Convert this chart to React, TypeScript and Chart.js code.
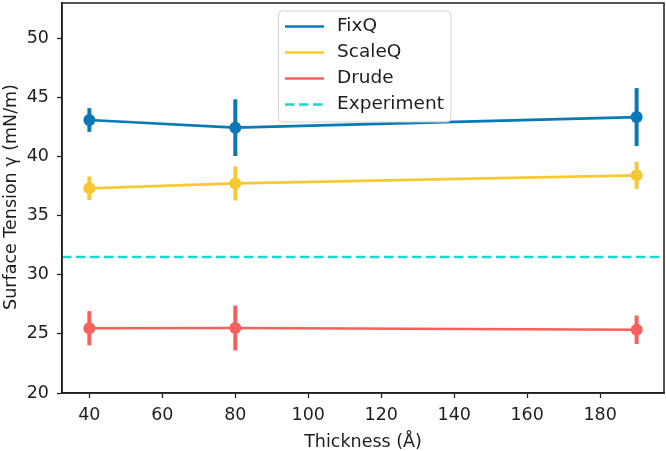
import React, { useEffect, useRef } from "react";
import { Chart, registerables } from "chart.js";

Chart.register(...registerables);

const thickness = [40, 80, 190];
const fixQ = [43.1, 42.45, 43.35];
const fixQErr = [1.0, 2.4, 2.45];
const scaleQ = [37.32, 37.73, 38.42];
const scaleQErr = [1.0, 1.45, 1.15];
const drude = [25.48, 25.5, 25.35];
const drudeErr = [1.45, 1.9, 1.2];
const experiment = 31.5;

const xMin = 32.5;
const xMax = 197.5;
const yMin = 20;
const yMax = 53;
const xTicks = [40, 60, 80, 100, 120, 140, 160, 180];
const yTicks = [20, 25, 30, 35, 40, 45, 50];

const seriesNames = ["FixQ", "ScaleQ", "Drude", "Experiment"];
const colors = ["#0879b6", "#f7c832", "#f8605b", "#1cd6d2"];

const FONT = "DejaVu Sans";
const INK = "#1e1e1e";

const errorSets = [
  { values: fixQ, errs: fixQErr, color: colors[0] },
  { values: scaleQ, errs: scaleQErr, color: colors[1] },
  { values: drude, errs: drudeErr, color: colors[2] },
];

const decorPlugin = {
  id: "decor",
  afterDatasetsDraw(chart: any) {
    const ctx = chart.ctx;
    const xs = chart.scales.x;
    const ys = chart.scales.y;
    ctx.save();
    errorSets.forEach((s) => {
      ctx.strokeStyle = s.color;
      ctx.lineWidth = 4;
      ctx.lineCap = "butt";
      thickness.forEach((t, i) => {
        const px = xs.getPixelForValue(t);
        ctx.beginPath();
        ctx.moveTo(px, ys.getPixelForValue(s.values[i] + s.errs[i]));
        ctx.lineTo(px, ys.getPixelForValue(s.values[i] - s.errs[i]));
        ctx.stroke();
      });
      ctx.fillStyle = s.color;
      thickness.forEach((t, i) => {
        ctx.beginPath();
        ctx.arc(xs.getPixelForValue(t), ys.getPixelForValue(s.values[i]), 6, 0, Math.PI * 2);
        ctx.fill();
      });
    });
    ctx.restore();
  },
  afterDraw(chart: any) {
    const ctx = chart.ctx;
    const a = chart.chartArea;
    ctx.save();
    // frame
    ctx.strokeStyle = INK;
    ctx.lineWidth = 1.5;
    ctx.strokeRect(a.left, a.top, a.right - a.left, a.bottom - a.top);

    // axis titles
    ctx.fillStyle = INK;
    ctx.font = `17.5px "${FONT}"`;
    ctx.textAlign = "center";
    ctx.textBaseline = "alphabetic";
    ctx.fillText("Thickness (Å)", (a.left + a.right) / 2, 446.5);
    ctx.save();
    ctx.translate(11, (a.top + a.bottom) / 2 - 1);
    ctx.rotate(-Math.PI / 2);
    ctx.textBaseline = "middle";
    ctx.fillText("Surface Tension γ (mN/m)", 0, 0);
    ctx.restore();

    // legend
    const lineX0 = 285;
    const lineX1 = 324;
    const textX = 337;
    const rowY0 = 26.5;
    const rowH = 26;
    ctx.font = `18.5px "${FONT}"`;
    let maxW = 0;
    seriesNames.forEach((n) => {
      maxW = Math.max(maxW, ctx.measureText(n).width);
    });
    const bx = 278.5;
    const by = 11;
    const bw = textX + maxW + 7 - bx;
    const bh = 111;
    ctx.beginPath();
    (ctx as any).roundRect(bx, by, bw, bh, 4);
    ctx.fillStyle = "rgba(255,255,255,0.85)";
    ctx.fill();
    ctx.strokeStyle = "#d0d0d0";
    ctx.lineWidth = 1;
    ctx.stroke();
    seriesNames.forEach((n, i) => {
      const y = rowY0 + i * rowH;
      ctx.strokeStyle = colors[i];
      ctx.lineWidth = 2.5;
      ctx.setLineDash(i === 3 ? [9.5, 4.5] : []);
      ctx.beginPath();
      ctx.moveTo(lineX0, y);
      ctx.lineTo(lineX1, y);
      ctx.stroke();
      ctx.setLineDash([]);
      ctx.fillStyle = INK;
      ctx.textAlign = "left";
      ctx.textBaseline = "middle";
      ctx.fillText(n, textX, y);
    });
    ctx.restore();
  },
};

export default function App() {
  const ref = useRef<HTMLCanvasElement | null>(null);
  useEffect(() => {
    if (!ref.current) return;
    const mk = (vals: number[]) => thickness.map((t, i) => ({ x: t, y: vals[i] }));
    const chart = new Chart(ref.current, {
      type: "line",
      data: {
        datasets: [
          { label: seriesNames[0], data: mk(fixQ), borderColor: colors[0], borderWidth: 2.7, pointRadius: 0, tension: 0 },
          { label: seriesNames[1], data: mk(scaleQ), borderColor: colors[1], borderWidth: 2.7, pointRadius: 0, tension: 0 },
          { label: seriesNames[2], data: mk(drude), borderColor: colors[2], borderWidth: 2.7, pointRadius: 0, tension: 0 },
          {
            label: seriesNames[3],
            data: [{ x: xMin, y: experiment }, { x: xMax, y: experiment }],
            borderColor: colors[3],
            borderWidth: 2.5,
            borderDash: [9.5, 4.5],
            pointRadius: 0,
          },
        ],
      },
      options: {
        responsive: false,
        devicePixelRatio: 1,
        animation: false,
        layout: { padding: { left: 0, top: 3, right: 2, bottom: 0 } },
        plugins: { legend: { display: false }, tooltip: { enabled: false } },
        scales: {
          x: {
            type: "linear",
            min: xMin,
            max: xMax,
            afterBuildTicks: (s: any) => {
              s.ticks = xTicks.map((v) => ({ value: v }));
            },
            afterFit: (s: any) => {
              s.height = 58;
              s.paddingLeft = 0;
              s.paddingRight = 0;
            },
            grid: { drawOnChartArea: false, drawTicks: true, tickLength: 5, tickColor: INK, tickWidth: 1.25 },
            border: { display: true, color: INK, width: 1.5 },
            ticks: { color: INK, font: { family: FONT, size: 17.5 }, padding: 7, maxRotation: 0, autoSkip: false },
          },
          y: {
            type: "linear",
            min: yMin,
            max: yMax,
            afterBuildTicks: (s: any) => {
              s.ticks = yTicks.map((v) => ({ value: v }));
            },
            afterFit: (s: any) => {
              s.width = 62;
              s.paddingTop = 0;
              s.paddingBottom = 0;
            },
            grid: { drawOnChartArea: false, drawTicks: true, tickLength: 5, tickColor: INK, tickWidth: 1.25 },
            border: { display: true, color: INK, width: 1.5 },
            ticks: { color: INK, font: { family: FONT, size: 17.5 }, padding: 8, autoSkip: false },
          },
        },
      },
      plugins: [decorPlugin],
    } as any);
    return () => chart.destroy();
  }, []);
  return (
    <div style={{ position: "fixed", left: 0, top: 0, width: 666, height: 451, background: "#fff" }}>
      <canvas ref={ref} width={666} height={451} style={{ display: "block" }} />
    </div>
  );
}
